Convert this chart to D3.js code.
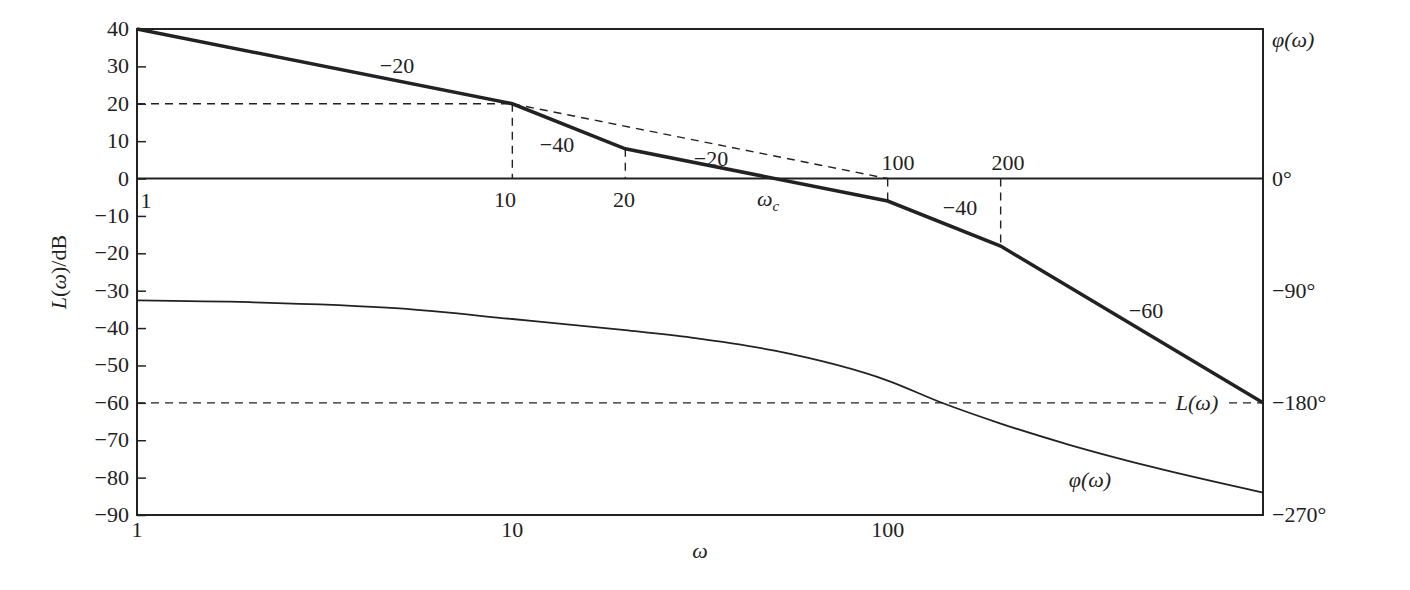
<!DOCTYPE html><html><head><meta charset="utf-8"><script src="https://d3js.org/d3.v7.min.js"></script>
<style>body{margin:0;background:#fff}text{font-family:"Liberation Serif","DejaVu Serif",serif;fill:#222}</style></head><body><svg id="c" width="1410" height="590"></svg><script>
const magW=[1,10,20,100,200,1000];
const magL=[40,20,7.96,-6.02,-18.06,-60];
const phW=[1,2,5,10,20,30,50,100,140,200,300,500,1000];
const phDeg=[-97.5,-99,-104,-112.5,-121.5,-127.5,-138,-162,-180,-196.5,-213,-231,-252];
const yTicks=[40,30,20,10,0,-10,-20,-30,-40,-50,-60,-70,-80,-90];
const xTicks=[1,10,100];
const rightTicks=[0,-90,-180,-270];
const FS=22;
const svg=d3.select("#c");
const x=d3.scaleLog().domain([1,1000]).range([137,1263]);
const y=d3.scaleLinear().domain([-90,40]).range([515,29]);
const yp=d3.scaleLinear().domain([-270,0]).range([515,179]);
const k="#222";
svg.append("rect").attr("x",137).attr("y",29).attr("width",1126).attr("height",486).attr("fill","none").attr("stroke",k).attr("stroke-width",2);
svg.append("line").attr("x1",137).attr("x2",1263).attr("y1",y(0)).attr("y2",y(0)).attr("stroke",k).attr("stroke-width",2);
const ly=svg.append("g").attr("transform","translate(137,0)").call(d3.axisRight(y).tickValues(yTicks).tickSize(9).tickFormat(""));
ly.select(".domain").remove();ly.selectAll("line").attr("stroke",k).attr("stroke-width",1.5);
yTicks.forEach(v=>svg.append("text").attr("x",129).attr("y",y(v)+7).attr("text-anchor","end").attr("font-size",FS).text(v<0?"\u2212"+(-v):v));
const bx=svg.append("g").attr("transform","translate(0,515)").call(d3.axisBottom(x).tickValues(xTicks).tickSize(0).tickFormat(""));
bx.select(".domain").remove();
xTicks.forEach(v=>svg.append("text").attr("x",x(v)).attr("y",537).attr("text-anchor","middle").attr("font-size",FS).text(v));
rightTicks.forEach(v=>svg.append("text").attr("x",1272).attr("y",yp(v)+7).attr("font-size",FS).text(v==0?"0\u00b0":"\u2212"+(-v)+"\u00b0"));
svg.append("text").attr("x",1272).attr("y",47).attr("font-size",FS).attr("font-style","italic").text("\u03c6(\u03c9)");
svg.append("text").attr("x",700).attr("y",558).attr("font-size",FS).attr("font-style","italic").attr("text-anchor","middle").text("\u03c9");
svg.append("text").attr("transform","translate(66,272) rotate(-90)").attr("text-anchor","middle").attr("font-size",FS).html('<tspan font-style="italic">L</tspan>(<tspan font-style="italic">ω</tspan>)/dB');
const dash=(a,b,c,d)=>svg.append("line").attr("x1",a).attr("y1",b).attr("x2",c).attr("y2",d).attr("stroke",k).attr("stroke-width",1.4).attr("stroke-dasharray","8,6");
dash(x(1),y(20),x(10),y(20));
dash(x(10),y(20),x(10),y(0));
dash(x(20),y(magL[2]),x(20),y(0));
dash(x(10),y(20),x(100),y(0));
dash(x(100),y(0),x(100),y(magL[3]));
dash(x(200),y(0),x(200),y(magL[4]));
dash(x(1),y(-60),x(1000),y(-60));
svg.append("rect").attr("x",1166).attr("y",y(-60)-14).attr("width",62).attr("height",28).attr("fill","#fff");
svg.append("text").attr("x",1197).attr("y",y(-60)+7).attr("text-anchor","middle").attr("font-size",FS).attr("font-style","italic").text("L(\u03c9)");
svg.append("path").datum(magW.map((w,i)=>[w,magL[i]])).attr("d",d3.line().x(d=>x(d[0])).y(d=>y(d[1]))).attr("fill","none").attr("stroke",k).attr("stroke-width",3.5);
svg.append("path").datum(phW.map((w,i)=>[w,phDeg[i]])).attr("d",d3.line().curve(d3.curveMonotoneX).x(d=>x(d[0])).y(d=>yp(d[1]))).attr("fill","none").attr("stroke",k).attr("stroke-width",1.8);
const t=(s,px,py)=>svg.append("text").attr("x",px).attr("y",py).attr("font-size",FS).attr("text-anchor","middle").text(s);
t("\u221220",397,73);t("\u221240",557,152);t("\u221220",711,166);t("\u221240",960,215);t("\u221260",1146,318);
t("1",146,208);t("10",505,207);t("20",624,207);t("100",898,170);t("200",1008,170);
svg.append("text").attr("x",768).attr("y",206).attr("font-size",FS).attr("font-style","italic").attr("text-anchor","middle").html('ω<tspan font-size="15" dy="5">c</tspan>');
svg.append("text").attr("x",1090).attr("y",487).attr("font-size",FS).attr("font-style","italic").attr("text-anchor","middle").text("\u03c6(\u03c9)");
</script></body></html>
